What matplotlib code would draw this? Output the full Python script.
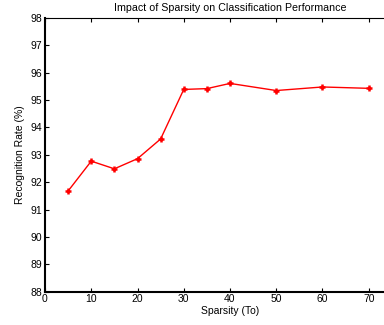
import matplotlib.pyplot as plt

plt.rcParams['font.family'] = ['Liberation Sans', 'DejaVu Sans']

sparsity = [5, 10, 15, 20, 25, 30, 35, 40, 50, 60, 70]
rate = [91.68, 92.77, 92.49, 92.86, 93.58, 95.39, 95.42, 95.61, 95.35, 95.48, 95.43]
xticks = [0, 10, 20, 30, 40, 50, 60, 70]
yticks = [88, 89, 90, 91, 92, 93, 94, 95, 96, 97, 98]

fig = plt.figure(figsize=(3.84, 3.25), dpi=100)
# axes run past the right edge, as in the cropped original
ax = fig.add_axes([45 / 384, 33.3 / 325, 370 / 384, 273.7 / 325])

ax.plot(sparsity, rate, color='red', linewidth=1.0, marker='+',
        markersize=5, markeredgewidth=1.8)

ax.set_xlim(0, 80)
ax.set_ylim(88, 98)
ax.set_xticks(xticks)
ax.set_yticks(yticks)
ax.tick_params(direction='in', length=3, width=0.8, labelsize=7.5,
               top=True, right=True, pad=2)
ax.spines['left'].set_linewidth(1.5)
ax.spines['bottom'].set_linewidth(1.5)
ax.spines['top'].set_linewidth(0.8)

ax.set_title('Impact of Sparsity on Classification Performance', fontsize=7.7, pad=5)
ax.set_xlabel('Sparsity (To)', fontsize=7.5, labelpad=1)
ax.set_ylabel('Recognition Rate (%)', fontsize=7.5, labelpad=4)

plt.savefig('out.png', dpi=100)
